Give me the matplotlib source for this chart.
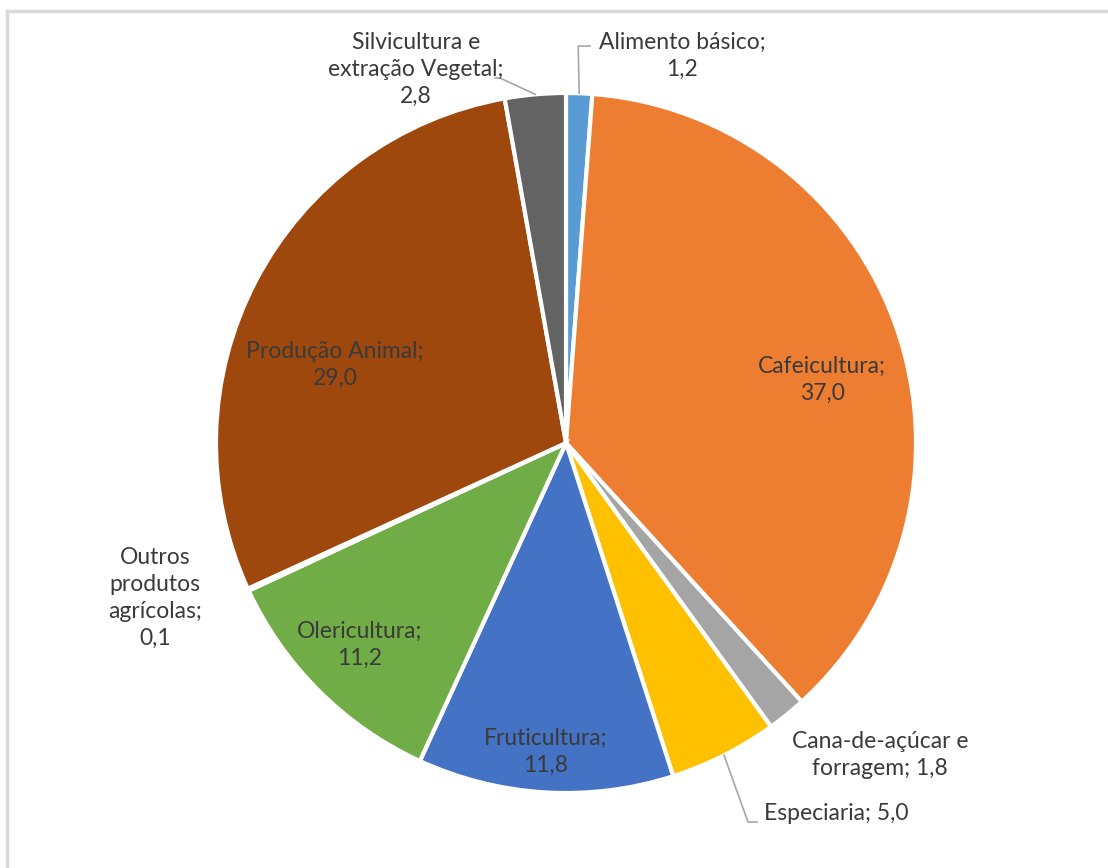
import numpy as np
import matplotlib.pyplot as plt

# valores (%) lidos do gráfico, no sentido horário a partir do topo
categorias = ["Alimento básico", "Cafeicultura", "Cana-de-açúcar e forragem",
              "Especiaria", "Fruticultura", "Olericultura",
              "Outros produtos agrícolas", "Produção Animal",
              "Silvicultura e extração Vegetal"]
valores = [1.2, 37.0, 1.8, 5.0, 11.8, 11.2, 0.1, 29.0, 2.8]
cores = ["#5B9BD5", "#ED7D31", "#A5A5A5", "#FFC000", "#4472C4",
         "#70AD47", "#255E91", "#9E480E", "#636363"]

# textos dos rótulos (como aparecem no gráfico)
rotulos = ["Alimento básico;\n1,2", "Cafeicultura;\n37,0",
           "Cana-de-açúcar e\nforragem; 1,8", "Especiaria; 5,0",
           "Fruticultura;\n11,8", "Olericultura;\n11,2",
           "Outros\nprodutos\nagrícolas;\n0,1", "Produção Animal;\n29,0",
           "Silvicultura e\nextração Vegetal;\n2,8"]

W, H = 1108, 868
fig = plt.figure(figsize=(W / 100, H / 100), dpi=100)
ax = fig.add_axes([0, 0, 1, 1])

cx, cy, r = 566, H - 443, 350
wedges, _ = ax.pie(valores, colors=cores, startangle=90, counterclock=False,
                   center=(cx, cy), radius=r, frame=True,
                   wedgeprops=dict(edgecolor="white", linewidth=3))
ax.set_xlim(0, W)
ax.set_ylim(0, H)
ax.set_aspect("equal")
ax.axis("off")

# moldura cinza (topo e esquerda)
ax.plot([7, W], [H - 11, H - 11], color="#d9d9d9", lw=2.5, clip_on=False)
ax.plot([7, 7], [0, H - 11], color="#d9d9d9", lw=2.5, clip_on=False)

fonte = dict(family=["Lato", "DejaVu Sans"], fontsize=16.5, color="#3a3a3a",
             ha="center", va="center", linespacing=1.35)

# posições dos rótulos em pixels (x, y a partir do topo)
pos = [(682, 56), (822, 380), (880, 755), (836, 813), (546, 752),
       (360, 645), (155, 598), (335, 365), (416, 69)]
for txt, (px, py) in zip(rotulos, pos):
    ax.text(px, H - py, txt, **fonte)

def borda(w):
    ang = np.deg2rad((w.theta1 + w.theta2) / 2)
    return cx + r * np.cos(ang), cy + r * np.sin(ang)

linha = dict(color="#a6a6a6", lw=1.2)
# Alimento básico
x0, y0 = borda(wedges[0])
ax.plot([x0, x0 - 1, 590], [y0, H - 46, H - 46], **linha)
# Silvicultura
x0, y0 = borda(wedges[8])
ax.plot([x0, 500, 495], [y0, H - 78, H - 78], **linha)
# Especiaria
x0, y0 = borda(wedges[3])
ax.plot([x0, 748, 757], [y0, H - 822, H - 822], **linha)

fig.savefig("out.png", dpi=100, facecolor="white")
